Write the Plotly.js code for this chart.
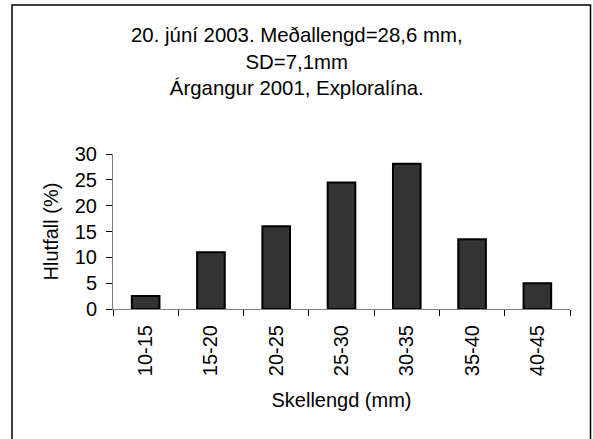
<!DOCTYPE html>
<html>
<head>
<meta charset="utf-8">
<script src="https://cdn.plot.ly/plotly-3.0.1.min.js"></script>
<style>
html,body{margin:0;padding:0;background:#fff;}
#chart{width:593px;height:439px;}
</style>
</head>
<body>
<div id="chart"></div>
<script>
var categories = ["10-15","15-20","20-25","25-30","30-35","35-40","40-45"];
var values = [2.5, 11, 16, 24.5, 28.1, 13.5, 5];
var yTicks = [0,5,10,15,20,25,30];
var titleLines = ["20. júní 2003. Meðallengd=28,6 mm,", "SD=7,1mm", "Árgangur 2001, Exploralína."];

var W = 593, H = 439;
var m = {l:113, r:23, t:154, b:130};
var pw = W - m.l - m.r, ph = H - m.t - m.b;
function px(x){return (x - m.l)/pw;}
function py(y){return (H - m.b - y)/ph;}

var font = "Liberation Sans, Arial, sans-serif";
var fs = 20;

var trace = {
  type: 'bar',
  x: categories,
  y: values,
  marker: {color: '#333333', line: {color: '#000000', width: 2}},
  hoverinfo: 'none'
};

var layout = {
  width: W, height: H,
  margin: m,
  paper_bgcolor: '#ffffff',
  plot_bgcolor: '#ffffff',
  showlegend: false,
  bargap: 0.577,
  font: {family: font, size: fs, color: '#000'},
  xaxis: {
    type: 'category',
    tickson: 'boundaries',
    ticks: 'outside', ticklen: 6, tickcolor: '#000', tickwidth: 1,
    showline: true, linecolor: '#808080', linewidth: 1,
    showgrid: false, zeroline: false,
    tickangle: -90,
    ticklabelstandoff: 7,
    tickfont: {family: font, size: fs, color: '#000'},
    title: {text: 'Skellengd (mm)', font: {family: font, size: fs, color: '#000'}, standoff: 17},
    automargin: false
  },
  yaxis: {
    range: [0, 30],
    tickvals: yTicks,
    ticktext: yTicks.map(String),
    ticks: 'outside', ticklen: 6, tickcolor: '#000', tickwidth: 1,
    showline: true, linecolor: '#808080', linewidth: 1,
    showgrid: false, zeroline: false,
    ticklabelstandoff: 5,
    tickfont: {family: font, size: fs, color: '#000'},
    title: {text: 'Hlutfall (%)', font: {family: font, size: fs, color: '#000'}, standoff: 10},
    automargin: false
  },
  annotations: [{
    xref: 'paper', yref: 'paper',
    x: px(296.5), y: py(22),
    xanchor: 'center', yanchor: 'top',
    text: titleLines.join('<br>'),
    showarrow: false,
    align: 'center',
    font: {family: font, size: 20.4, color: '#000'}
  }],
  shapes: [{
    type: 'rect', xref: 'paper', yref: 'paper',
    x0: px(12), x1: px(590.5), y0: py(445), y1: py(5),
    line: {color: '#000', width: 1.5}, fillcolor: 'rgba(0,0,0,0)', layer: 'below'
  }]
};

Plotly.newPlot('chart', [trace], layout, {displayModeBar: false, staticPlot: true});
</script>
</body>
</html>
